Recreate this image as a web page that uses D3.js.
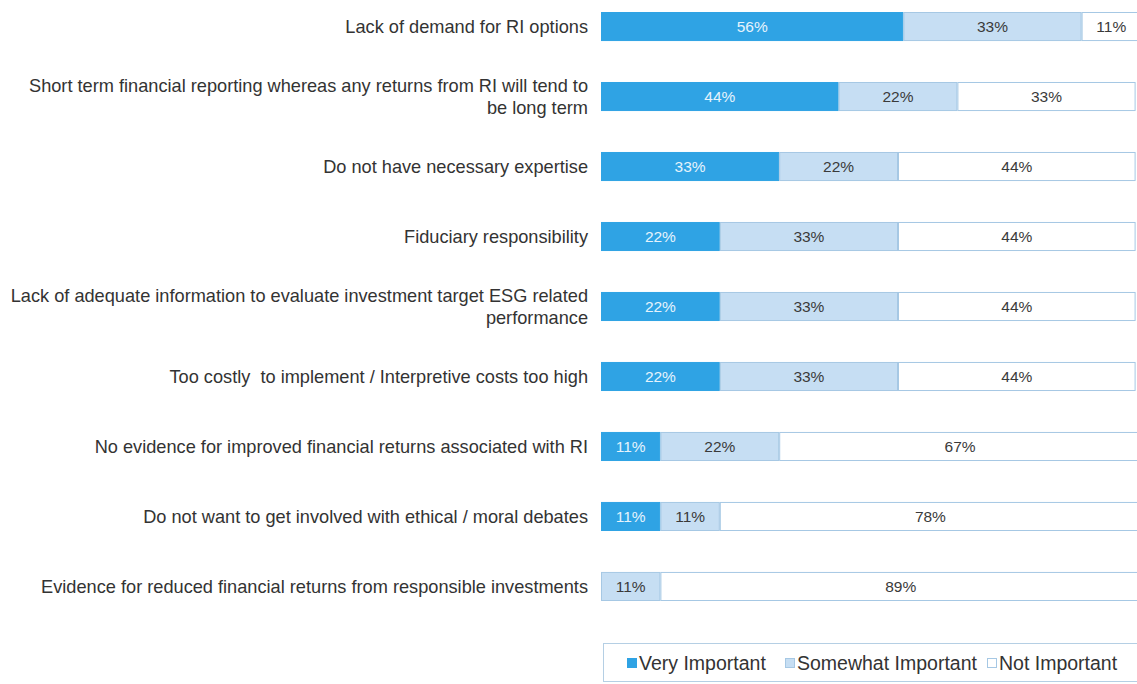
<!DOCTYPE html>
<html>
<head>
<meta charset="utf-8">
<script src="https://cdn.jsdelivr.net/npm/d3@7"></script>
<style>
  html, body { margin: 0; padding: 0; background: #fff; overflow: hidden; }
  svg { display: block; font-family: "Liberation Sans", Arial, sans-serif; }
  .row-label { white-space: pre; }
</style>
</head>
<body>
<svg id="chart" width="1137" height="684"></svg>
<script>
// Barriers to responsible investment, share of respondents by importance
const categories = [
  ["Lack of demand for RI options"],
  ["Short term financial reporting whereas any returns from RI will tend to", "be long term"],
  ["Do not have necessary expertise"],
  ["Fiduciary responsibility"],
  ["Lack of adequate information to evaluate investment target ESG related", "performance"],
  ["Too costly  to implement / Interpretive costs too high"],
  ["No evidence for improved financial returns associated with RI"],
  ["Do not want to get involved with ethical / moral debates"],
  ["Evidence for reduced financial returns from responsible investments"]
];
const seriesNames = ["Very Important", "Somewhat Important", "Not Important"];
const veryImportant     = [56, 44, 33, 22, 22, 22, 11, 11, 0];
const somewhatImportant = [33, 22, 22, 33, 33, 33, 22, 11, 11];
const notImportant      = [11, 33, 44, 44, 44, 44, 67, 78, 89];

const colors = ["#2fa3e4", "#c6def3", "#ffffff"];
const strokes = ["#2fa3e4", "#a6c8e4", "#a6c8e4"];
const textColors = ["#e6f3fc", "#3a3a3a", "#3a3a3a"];

const svg = d3.select("#chart");
const plotLeft = 601, barWidth = 540;
const plotTop = 12, plotBottom = 601;

const rows = categories.map((c, i) => ({
  key: i, label: c,
  values: [veryImportant[i], somewhatImportant[i], notImportant[i]]
}));

const x = d3.scaleLinear().domain([0, 100]).range([plotLeft, plotLeft + barWidth]);
const y = d3.scaleBand().domain(rows.map(r => r.key)).range([plotTop, plotBottom]).paddingInner(0.585).paddingOuter(0);

const stack = d3.stack().keys([0, 1, 2]).value((d, k) => d.values[k]);
const layers = stack(rows);

const g = svg.append("g");
layers.forEach((layer, si) => {
  const lg = g.append("g");
  layer.forEach((seg, ri) => {
    const v = seg[1] - seg[0];
    if (v <= 0) return;
    const yy = y(ri);
    lg.append("rect")
      .attr("x", x(seg[0]) + 0.5)
      .attr("y", yy + 0.5)
      .attr("width", x(seg[1]) - x(seg[0]) - 1)
      .attr("height", y.bandwidth() - 1)
      .attr("fill", colors[si])
      .attr("stroke", strokes[si])
      .attr("stroke-width", 1);
    lg.append("text")
      .attr("x", (x(seg[0]) + x(seg[1])) / 2)
      .attr("y", yy + y.bandwidth() / 2)
      .attr("dy", "0.35em")
      .attr("text-anchor", "middle")
      .attr("fill", textColors[si])
      .attr("font-size", 15.5)
      .text(v + "%");
  });
});

// Row labels on the left, right-aligned
const labelX = 588;
rows.forEach((r, i) => {
  const cy = y(i) + y.bandwidth() / 2;
  const lines = r.label;
  const lh = 22;
  const t = g.append("text")
    .attr("class", "row-label")
    .attr("text-anchor", "end")
    .attr("fill", "#333")
    .attr("font-size", 18.2);
  lines.forEach((ln, li) => {
    t.append("tspan")
      .attr("x", labelX)
      .attr("y", cy - (lines.length - 1) * lh / 2 + li * lh)
      .attr("dy", "0.35em")
      .text(ln);
  });
});

// Legend
const legend = svg.append("g");
legend.append("rect")
  .attr("x", 603.5).attr("y", 643.5)
  .attr("width", 560).attr("height", 38)
  .attr("fill", "#fff").attr("stroke", "#b5cfe4");
const legendX = [627, 785, 987];
seriesNames.forEach((name, i) => {
  legend.append("rect")
    .attr("x", legendX[i] + 0.5).attr("y", 658.5)
    .attr("width", 9).attr("height", 9)
    .attr("fill", colors[i]).attr("stroke", strokes[i]);
  legend.append("text")
    .attr("x", legendX[i] + 12).attr("y", 663)
    .attr("dy", "0.35em")
    .attr("fill", "#333")
    .attr("font-size", 19.5)
    .text(name);
});
</script>
</body>
</html>
